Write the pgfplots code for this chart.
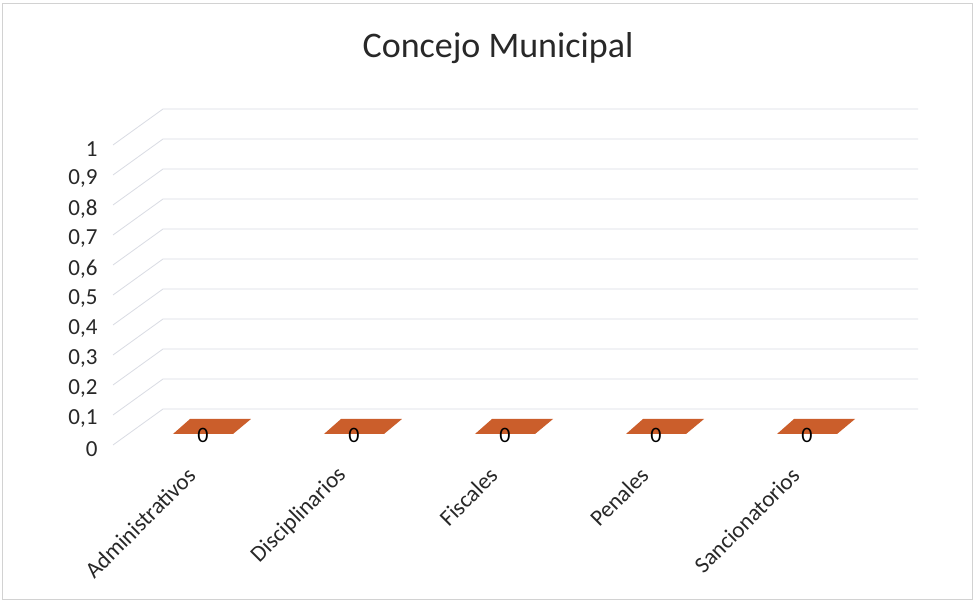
\documentclass[border=0pt]{standalone}
\usepackage{pgfplots}
\pgfplotsset{compat=1.18}
\usepackage{fontspec}
\setmainfont{Carlito}
\definecolor{barc}{RGB}{203,94,43}
\definecolor{gridc}{RGB}{218,220,228}
\definecolor{txt}{RGB}{40,40,40}
\pgfdeclareplotmark{para}{%
  \pgfpathmoveto{\pgfpoint{-30bp}{11bp}}%
  \pgfpathlineto{\pgfpoint{30bp}{11bp}}%
  \pgfpathlineto{\pgfpoint{48bp}{26bp}}%
  \pgfpathlineto{\pgfpoint{-13bp}{26bp}}%
  \pgfpathclose
  \pgfusepath{fill}}
\begin{document}
\begin{tikzpicture}
\path[use as bounding box] (0,0) rectangle (974bp,601bp);
\fill[white] (0,0) rectangle (974bp,601bp);
\draw[gray!35, line width=0.8bp] (2bp,2bp) rectangle (972bp,598bp);
\node[anchor=base, text=txt, font=\fontsize{36bp}{42bp}\selectfont] at (498bp,543bp) {Concejo Municipal};
\begin{axis}[
  at={(113bp,156bp)}, anchor=south west,
  scale only axis, width=755bp, height=300bp,
  xmin=-0.596, xmax=4.404, ymin=0, ymax=1,
  clip=false,
  axis line style={draw=none},
  major tick length=0pt,
  tick style={draw=none},
  /pgf/number format/assume math mode=true,
  ytick={0,0.1,0.2,0.3,0.4,0.5,0.6,0.7,0.8,0.9,1},
  yticklabel style={/pgf/number format/.cd, use comma, fixed, precision=1, /tikz/.cd,
    text=txt, font=\fontsize{23bp}{27bp}\selectfont, xshift=-12bp, yshift=-4bp},
  xtick={0,1,2,3,4},
  xticklabels={Administrativos, Disciplinarios, Fiscales, Penales, Sancionatorios},
  xticklabel style={text=txt, font=\fontsize{23bp}{27bp}\selectfont, xshift=-9bp, yshift=-24bp, rotate=45, anchor=east},
]
\pgfplotsinvokeforeach{0,0.1,0.2,0.3,0.4,0.5,0.6,0.7,0.8,0.9,1}{
  \draw[gridc, line width=0.8bp] (axis cs:-0.596,#1) -- ++(50bp,36bp) -- ++(755bp,0bp);
}
\addplot[only marks, mark=para, color=barc, fill=barc,
  point meta=y,
  nodes near coords,
  every node near coord/.append style={anchor=center, yshift=10bp, text=black,
    font=\fontsize{22bp}{26bp}\selectfont, /pgf/number format/assume math mode=true}]
  coordinates {(0,0) (1,0) (2,0) (3,0) (4,0)};
\end{axis}
\end{tikzpicture}
\end{document}
